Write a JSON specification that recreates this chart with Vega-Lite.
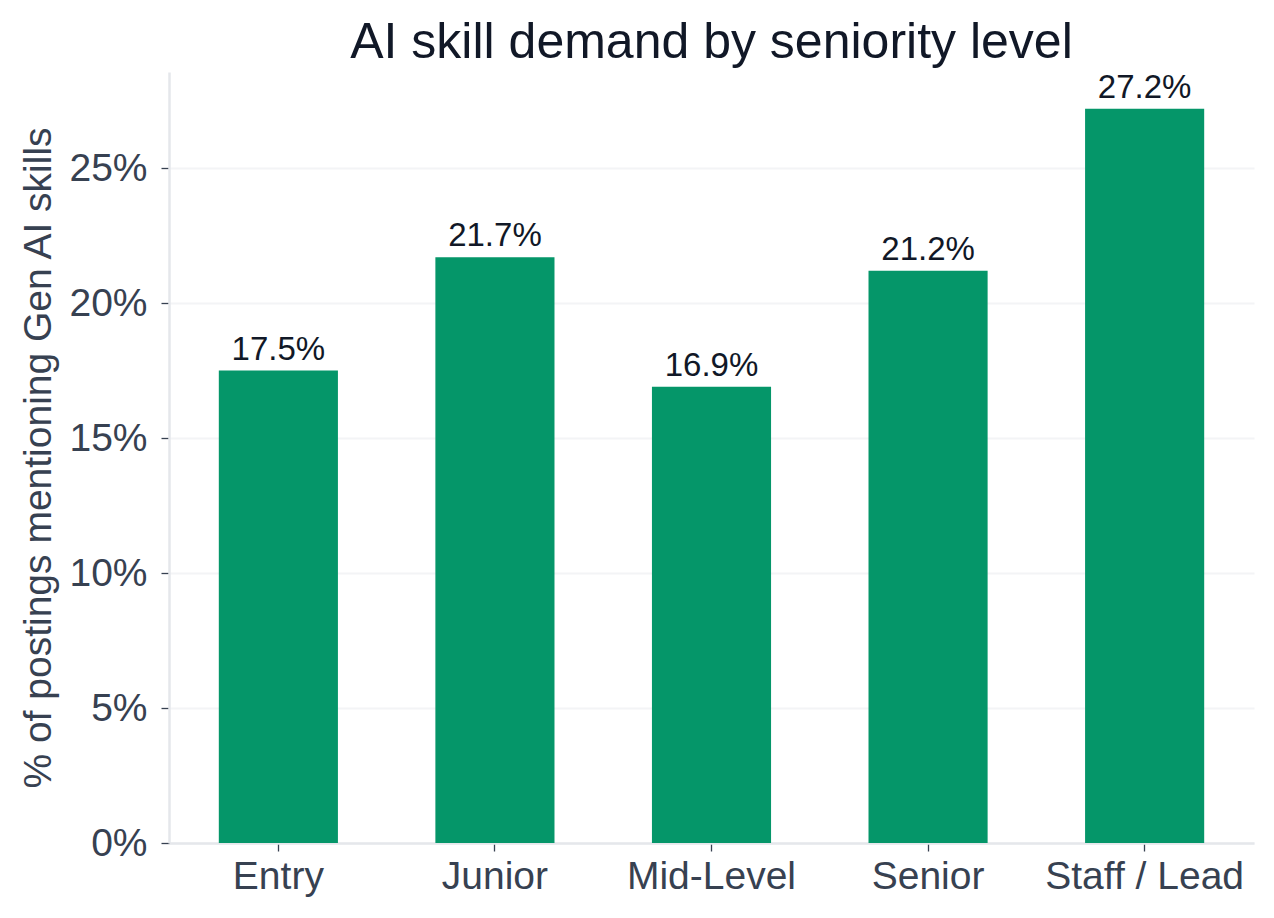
{
  "$schema": "https://vega.github.io/schema/vega-lite/v6.json",
  "autosize": {"type": "none"},
  "width": 1085,
  "height": 771,
  "padding": {"left": 169, "top": 72, "right": 20, "bottom": 75},
  "background": "white",
  "title": {
    "text": "AI skill demand by seniority level",
    "font": "Liberation Sans",
    "fontSize": 50,
    "fontWeight": "normal",
    "color": "#111827",
    "anchor": "middle",
    "offset": 4
  },
  "config": {
    "view": {"stroke": null},
    "font": "Liberation Sans"
  },
  "data": {
    "values": [
      {"level": "Entry", "share": 0.175},
      {"level": "Junior", "share": 0.217},
      {"level": "Mid-Level", "share": 0.169},
      {"level": "Senior", "share": 0.212},
      {"level": "Staff / Lead", "share": 0.272}
    ]
  },
  "encoding": {
    "x": {
      "field": "level",
      "type": "nominal",
      "sort": null,
      "scale": {"paddingInner": 0.45, "paddingOuter": 0.23},
      "axis": {
        "title": null,
        "labelAngle": 0,
        "labelLimit": 0,
        "labelFont": "Liberation Sans",
        "labelFontSize": 39,
        "labelColor": "#374151",
        "labelPadding": 6,
        "tickColor": "#374151",
        "tickSize": 8,
        "tickWidth": 1.3,
        "domainColor": "#e5e7eb",
        "domainWidth": 2.5,
        "grid": false
      }
    },
    "y": {
      "field": "share",
      "type": "quantitative",
      "scale": {"domain": [0, 0.2856], "nice": false},
      "axis": {
        "title": "% of postings mentioning Gen AI skills",
        "titleFont": "Liberation Sans",
        "titleFontSize": 39,
        "titleFontWeight": "normal",
        "titleColor": "#374151",
        "titlePadding": 10,
        "values": [0, 0.05, 0.1, 0.15, 0.2, 0.25],
        "format": ".0%",
        "labelFont": "Liberation Sans",
        "labelFontSize": 39,
        "labelColor": "#374151",
        "labelPadding": 14,
        "tickColor": "#374151",
        "tickSize": 8,
        "tickWidth": 1.3,
        "domainColor": "#e5e7eb",
        "domainWidth": 2.5,
        "grid": true,
        "gridColor": "#f3f4f6",
        "gridWidth": 2
      }
    }
  },
  "layer": [
    {
      "mark": {"type": "bar", "color": "#059669"}
    },
    {
      "mark": {
        "type": "text",
        "baseline": "alphabetic",
        "dy": -11,
        "fontSize": 33,
        "font": "Liberation Sans",
        "color": "#111827"
      },
      "encoding": {
        "text": {"field": "share", "type": "quantitative", "format": ".1%"}
      }
    }
  ]
}
